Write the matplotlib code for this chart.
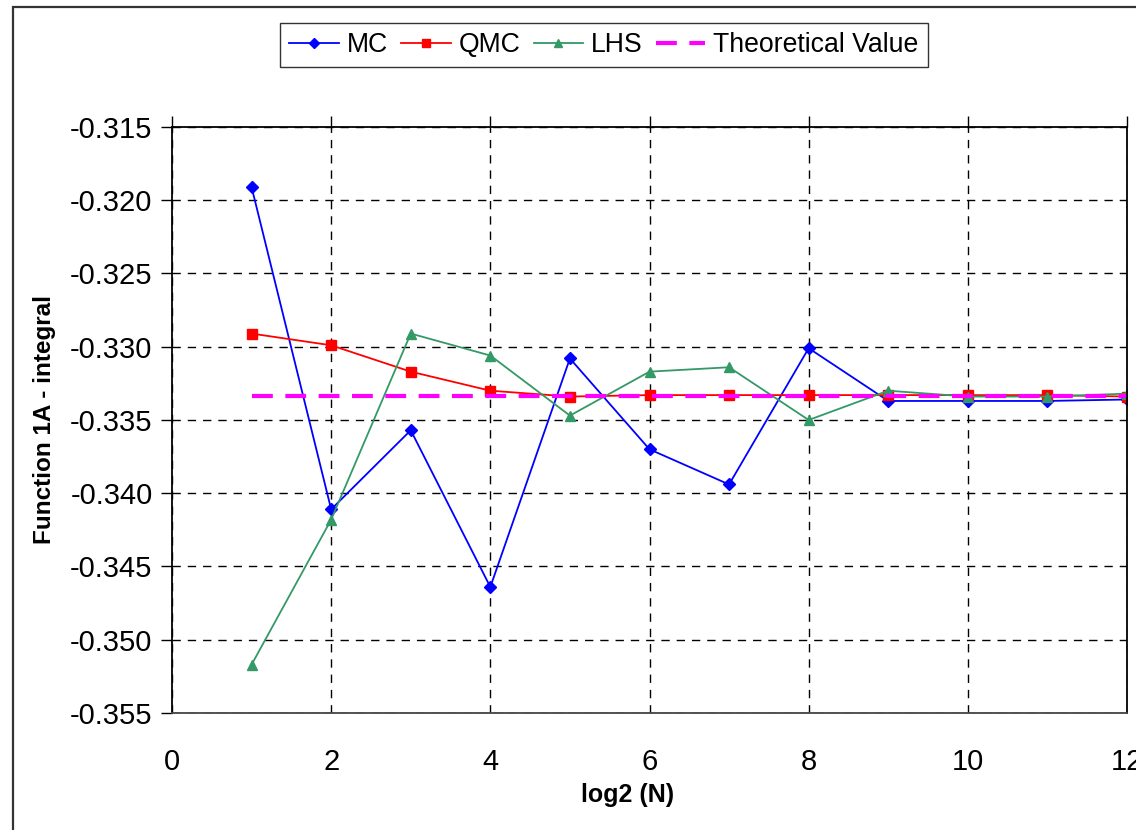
import matplotlib
matplotlib.use("Agg")
import matplotlib.pyplot as plt
from matplotlib.patches import Rectangle

plt.rcParams['font.family'] = ['Liberation Sans', 'DejaVu Sans']

# datos
log2n = [1, 2, 3, 4, 5, 6, 7, 8, 9, 10, 11, 12]
mc = [-0.3191, -0.3411, -0.3357, -0.3464, -0.3308, -0.3370, -0.3394,
      -0.3301, -0.3337, -0.3337, -0.3337, -0.3336]
qmc = [-0.3291, -0.3299, -0.3317, -0.3330, -0.3334, -0.3333, -0.3333,
       -0.3333, -0.3333, -0.3333, -0.3333, -0.3334]
lhs = [-0.3517, -0.3418, -0.3291, -0.3306, -0.3347, -0.3317, -0.3314,
       -0.3350, -0.3330, -0.3334, -0.3334, -0.3332]
theoretical = -1.0 / 3.0

fig = plt.figure(figsize=(11.36, 8.3), dpi=100)
ax = fig.add_axes([172 / 1136, 1 - 713 / 830, (1127 - 172) / 1136, (713 - 127) / 830])

# marco exterior del grafico (recortado a derecha y abajo)
fig.patches.append(Rectangle((13 / 1136, -0.1), 1.2, 1 - 7 / 830 + 0.1,
                             transform=fig.transFigure, fill=False,
                             edgecolor='#333333', linewidth=1.6))

ax.plot(log2n, mc, color='#0000ff', marker='D', markersize=6, linewidth=1.3, label='MC')
ax.plot(log2n, qmc, color='#ff0000', marker='s', markersize=6.5, linewidth=1.3, label='QMC')
ax.plot(log2n, lhs, color='#339966', marker='^', markersize=7, linewidth=1.3, label='LHS')
ax.plot([log2n[0], log2n[-1]], [theoretical, theoretical], color='#ff00ff',
        linewidth=3, dashes=(5, 3), label='Theoretical Value')

ax.set_xlim(0, 12)
ax.set_ylim(-0.355, -0.315)
ax.set_xticks(range(0, 13, 2))
ax.set_yticks([-0.355, -0.350, -0.345, -0.340, -0.335, -0.330, -0.325, -0.320, -0.315])
ax.set_yticklabels(['%.3f' % v for v in ax.get_yticks()])

ax.grid(True, color='black', linestyle=(0, (6, 5)), linewidth=1.0)
ax.tick_params(axis='x', top=True, bottom=False, labeltop=False, labelbottom=True,
               direction='out', length=8, width=1, labelsize=21, pad=17)
ax.tick_params(axis='y', direction='out', length=8, width=1, labelsize=21, pad=6)
for s in ax.spines.values():
    s.set_color('black')
    s.set_linewidth(1.3)
ax.spines['bottom'].set_color('#444444')

ax.set_xlabel('log2 (N)', fontsize=18, fontweight='bold')
ax.xaxis.set_label_coords((628 - 172) / 955, -(783 - 713) / 586)
ax.set_ylabel('Function 1A - integral', fontsize=17.5, fontweight='bold')
ax.yaxis.set_label_coords(-(172 - 56) / 955, 0.5)

leg = ax.legend(loc='center', ncol=4, fontsize=19.2, frameon=True, fancybox=False,
                handlelength=1.85, handletextpad=0.3, columnspacing=0.5,
                borderpad=0.35, markerscale=0.8,
                bbox_to_anchor=(604 / 1136, 1 - 45 / 830), bbox_transform=fig.transFigure)
leg.get_frame().set_edgecolor('black')
leg.get_frame().set_linewidth(1.0)

fig.savefig('out.png', dpi=100)
